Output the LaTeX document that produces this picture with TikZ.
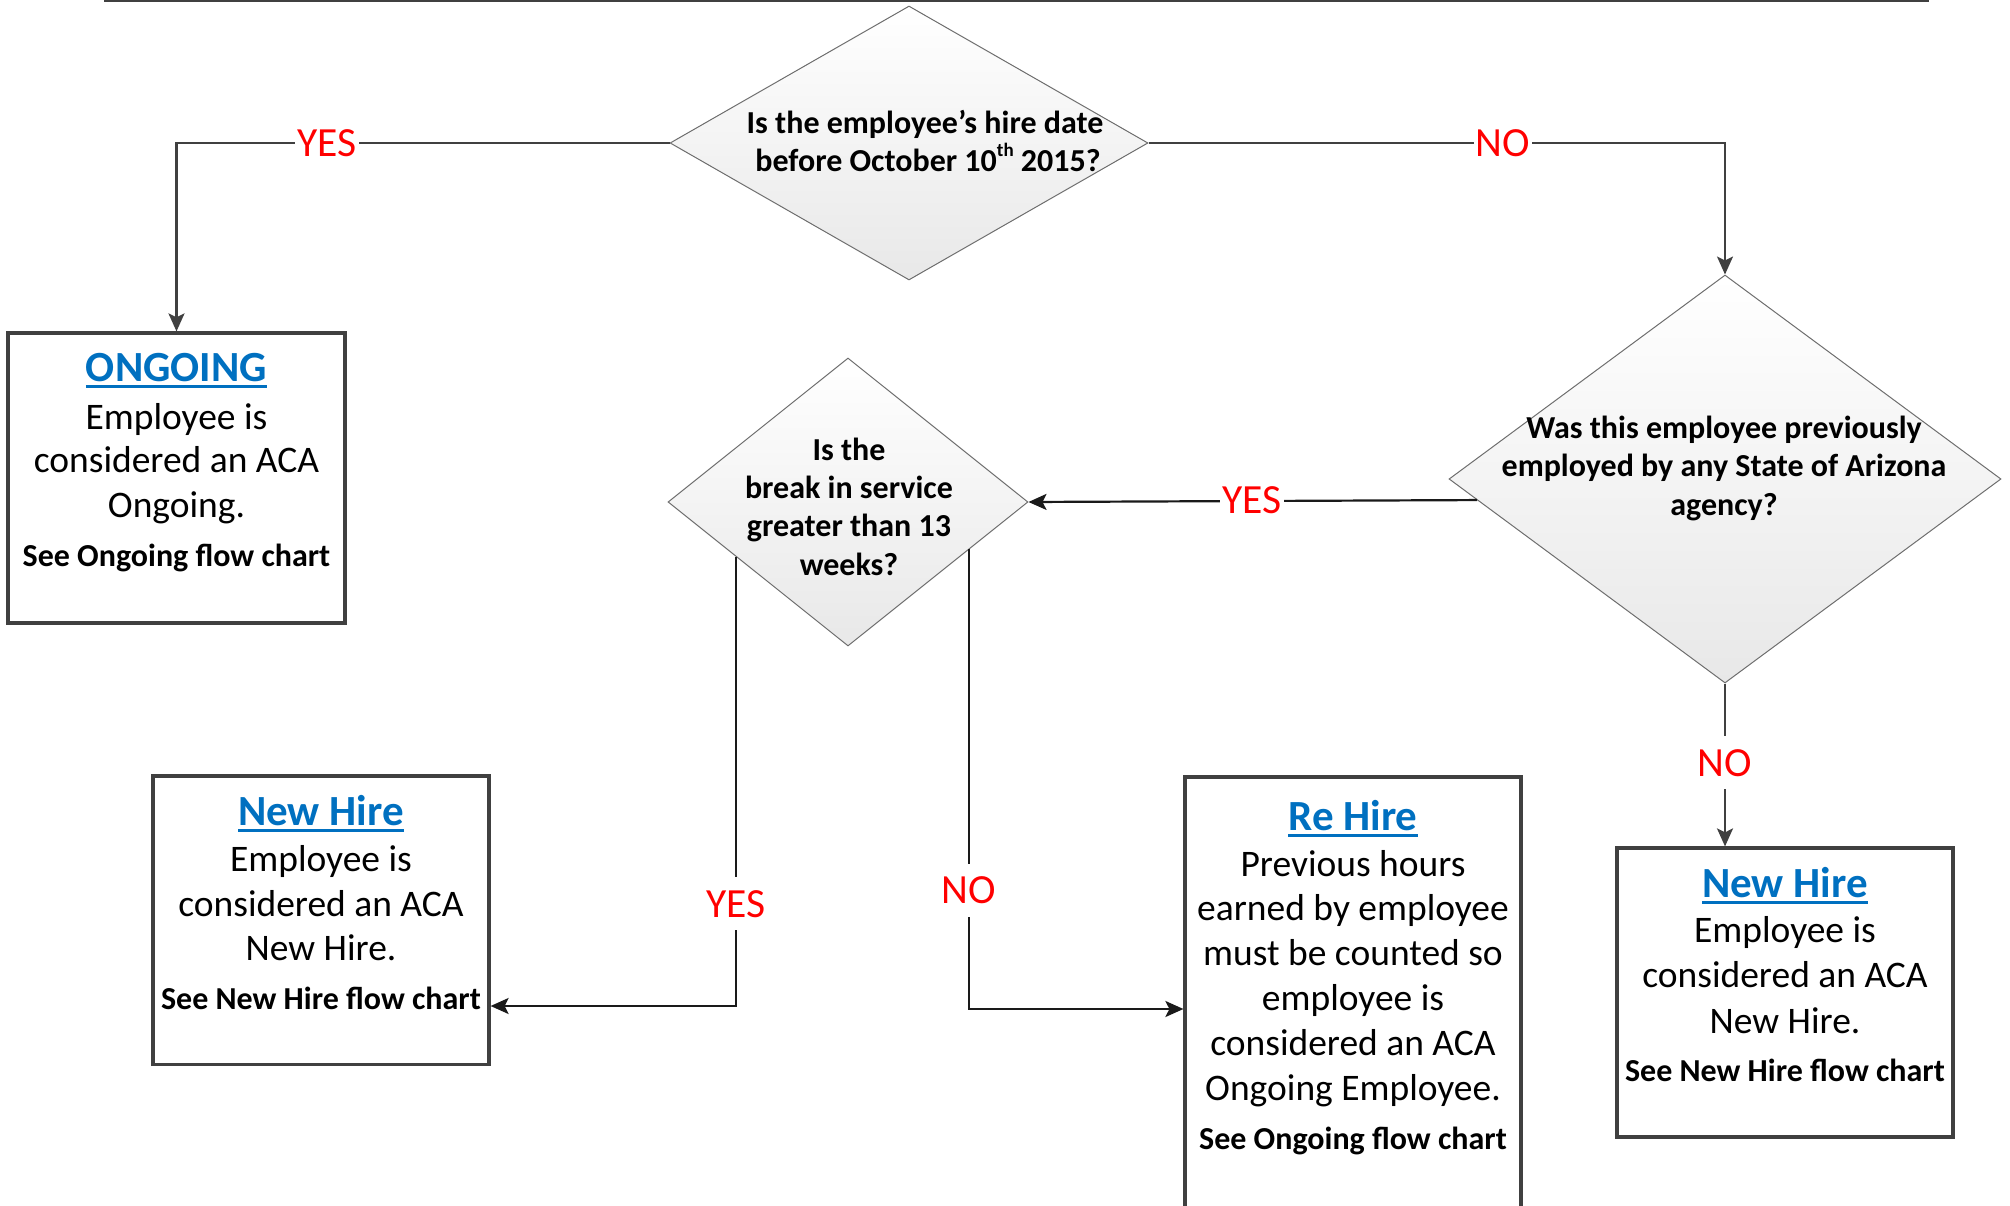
\documentclass[tikz,border=0pt]{standalone}
\usepackage{fontspec}
\setmainfont{Carlito}
\usetikzlibrary{shapes.geometric,arrows.meta,calc}
\definecolor{lc}{HTML}{404040}
\definecolor{dk}{HTML}{1A1A1A}
\definecolor{ttl}{HTML}{0070C0}
\definecolor{lred}{HTML}{FF0000}
\definecolor{dbord}{HTML}{6E6E6E}
\newsavebox{\ulbox}
\newcommand\myul[1]{\sbox\ulbox{#1}\rlap{\rule[-6.2pt]{\wd\ulbox}{2.6pt}}\usebox\ulbox}
\begin{document}
\begin{tikzpicture}[x=1pt,y=-1pt,
  box/.style={draw=lc, line width=3.2pt, rectangle, inner sep=0pt, minimum width=336pt},
  dia/.style={diamond, draw=dbord, line width=1pt, top color=white, bottom color=black!9, inner sep=0pt},
  body/.style={anchor=base, inner sep=0pt, font=\fontsize{37.5}{44}\selectfont},
  qtext/.style={anchor=base, inner sep=0pt, font=\bfseries\fontsize{32}{38}\selectfont},
  ttlstyle/.style={anchor=base, inner sep=0pt, text=ttl, font=\bfseries\fontsize{43}{48}\selectfont},
  conn/.style={draw=lc, line width=2.2pt, -{Stealth[length=18pt,width=16pt,inset=4pt]}},
  conndk/.style={conn, draw=dk},
  lbl/.style={fill=white, text=lred, inner xsep=2pt, inner ysep=13pt, font=\fontsize{41.5}{48}\selectfont}
]
\useasboundingbox (0,0) rectangle (2010,1206);
\clip (0,0) rectangle (2010,1206);

% top rule
\draw[lc, line width=2pt] (104,1) -- (1929,1);

% diamonds
\node[dia, minimum width=478pt, minimum height=274pt] (d1) at (909,143) {};
\node[dia, minimum width=552pt, minimum height=408pt] (d2) at (1725,479) {};
\node[dia, minimum width=360pt, minimum height=288pt] (d3) at (848,502) {};

% boxes
\node[box, minimum width=337pt, minimum height=290pt] (ong) at (176.5,478) {};
\node[box, minimum height=288.6pt] (nh1) at (321,920.3) {};
\node[box, minimum height=440pt] (rh) at (1353,997) {};
\node[box, minimum height=289pt] (nh2) at (1785,992.5) {};

% diamond texts
\node[qtext] (d1a) at (925,133.3) {Is the employee’s hire date};
\node[qtext] (d1b) at (928,171.7) {before October 10\raisebox{0.48em}{\fontsize{19}{19}\selectfont th} 2015?};

\node[qtext] (d2a) at (1724,438.3) {Was this employee previously};
\node[qtext] (d2b) at (1724,476.7) {employed by any State of Arizona};
\node[qtext] (d2c) at (1724,515) {agency?};

\node[qtext] (d3a) at (849,460) {Is the};
\node[qtext] (d3b) at (849,498.3) {break in service};
\node[qtext] (d3c) at (849,536.7) {greater than 13};
\node[qtext] (d3d) at (849,575) {weeks?};

% ONGOING box text
\node[ttlstyle] (ongT) at (176.5,381.7) {\myul{ONGOING}};
\node[body] (ong1) at (176.5,429) {Employee is};
\node[body] (ong2) at (176.5,472.5) {considered an ACA};
\node[body] (ong3) at (176.5,517) {Ongoing.};
\node[qtext] (ong4) at (176.5,566.7) {See Ongoing flow chart};

% New Hire (left)
\node[ttlstyle] (nh1T) at (321,825.4) {\myul{New Hire}};
\node[body] (nh11) at (321,871) {Employee is};
\node[body] (nh12) at (321,916) {considered an ACA};
\node[body] (nh13) at (321,960.5) {New Hire.};
\node[qtext] (nh14) at (321,1009.2) {See New Hire flow chart};

% Re Hire
\node[ttlstyle] (rhT) at (1353,830.6) {\myul{Re Hire}};
\node[body] (rh1) at (1353,876) {Previous hours};
\node[body] (rh2) at (1353,920.5) {earned by employee};
\node[body] (rh3) at (1353,965.5) {must be counted so};
\node[body] (rh4) at (1353,1010) {employee is};
\node[body] (rh5) at (1353,1055) {considered an ACA};
\node[body] (rh6) at (1353,1100.5) {Ongoing Employee.};
\node[qtext] (rh7) at (1353,1149.2) {See Ongoing flow chart};

% New Hire (right)
\node[ttlstyle] (nh2T) at (1785,897.8) {\myul{New Hire}};
\node[body] (nh21) at (1785,942) {Employee is};
\node[body] (nh22) at (1785,987.5) {considered an ACA};
\node[body] (nh23) at (1785,1033) {New Hire.};
\node[qtext] (nh24) at (1785,1081.5) {See New Hire flow chart};

% connectors
\draw[conn] (d1.west) -| (ong.north);
\draw[conn] (d1.east) -| (d2.north);
\coordinate (y2) at ($(d2.west)!0.103!(d2.south)$);
\draw[conndk] (y2) -- (d3.east);
\coordinate (y3a) at ($(d3.west)!0.378!(d3.south)$);
\coordinate (c3) at (0,1006);
\draw[conndk] (y3a) -- (y3a |- c3) -- (nh1.east |- c3);
\coordinate (n3a) at ($(d3.east)!0.328!(d3.south)$);
\coordinate (c4) at (0,1009);
\draw[conndk] (n3a) -- (n3a |- c4) -- (rh.west |- c4);
\draw[conn] (d2.south) -- (d2.south |- nh2.north);

% labels
\node[lbl] (lyes1) at (327,143) {YES};
\node[lbl] (lno1) at (1503,143) {NO};
\node[lbl] (lyes2) at (1252,500.5) {YES};
\node[lbl] (lyes3) at (736,903.7) {YES};
\node[lbl] (lno3) at (969,890.5) {NO};
\node[lbl] (lno2) at (1724.5,762.7) {NO};
\end{tikzpicture}
\end{document}
